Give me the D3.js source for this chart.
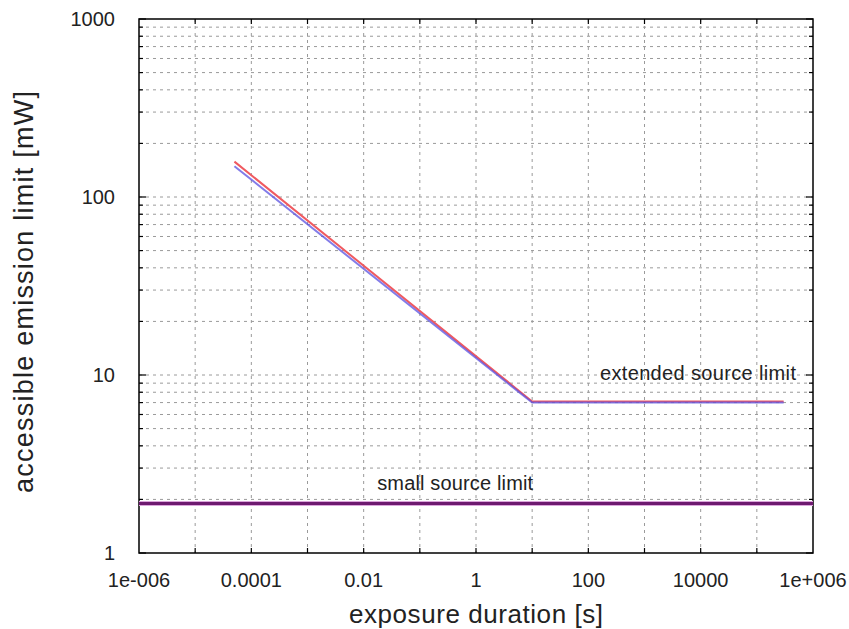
<!DOCTYPE html>
<html>
<head>
<meta charset="utf-8">
<script src="https://cdn.jsdelivr.net/npm/d3@7"></script>
<style>
  body { margin: 0; background: #fff; }
  text { font-family: "Liberation Sans", Arial, sans-serif; fill: #222; }
</style>
</head>
<body>
<svg id="chart" width="849" height="629"></svg>
<script>
// exposure duration [s] vs accessible emission limit [mW]
var xTickVals = [1e-6, 1e-4, 1e-2, 1, 1e2, 1e4, 1e6]
var xTickLabels = ["1e-006", "0.0001", "0.01", "1", "100", "10000", "1e+006"]
var yTickVals = [1, 10, 100, 1000]
var yTickLabels = ["1", "10", "100", "1000"]

var redLine = [[5e-5, 158], [10, 7.1], [3e5, 7.1]]
var blueLine = [[5e-5, 149], [10, 7.0], [3e5, 7.0]]
var smallSource = [[1e-6, 1.9], [1e6, 1.9]]

var labels = [
  {text: "extended source limit", t: 161, v: 9.4, len: 196},
  {text: "small source limit", t: 0.0174, v: 2.26, len: 156}
]

var pLeft = 139, pRight = 813, pTop = 19, pBottom = 553
var svg = d3.select("#chart")
var x = d3.scaleLog().domain([1e-6, 1e6]).range([pLeft, pRight])
var y = d3.scaleLog().domain([1, 1000]).range([pBottom, pTop])

// grid
var grid = svg.append("g")
var hVals = []
for (var n = 0; n < 3; n++) for (var k = 1; k <= 9; k++) {
  var v = k * Math.pow(10, n)
  if (v > 1 && v < 1000) hVals.push(v)
}
grid.selectAll(".hgrid").data(hVals).enter().append("line")
  .attr("x1", pLeft).attr("x2", pRight)
  .attr("y1", d => y(d)).attr("y2", d => y(d))
  .attr("stroke", "#9a9a9a").attr("stroke-dasharray", "3,4")
var vVals = d3.range(-5, 6).map(e => Math.pow(10, e))
grid.selectAll(".vgrid").data(vVals).enter().append("line")
  .attr("y1", pTop).attr("y2", pBottom)
  .attr("x1", d => x(d)).attr("x2", d => x(d))
  .attr("stroke", "#9a9a9a").attr("stroke-dasharray", "3,4")

// ticks on all four sides
var ticks = svg.append("g").attr("stroke", "#000").attr("stroke-width", 1.2)
var allY = hVals.concat([1, 1000])
allY.forEach(function(v){
  var major = yTickVals.indexOf(v) > -1
  var len = major ? 7 : 4
  ticks.append("line").attr("x1", pLeft).attr("x2", pLeft + len).attr("y1", y(v)).attr("y2", y(v))
  ticks.append("line").attr("x1", pRight).attr("x2", pRight - len).attr("y1", y(v)).attr("y2", y(v))
})
vVals.forEach(function(v){
  ticks.append("line").attr("y1", pBottom).attr("y2", pBottom - 5).attr("x1", x(v)).attr("x2", x(v))
  ticks.append("line").attr("y1", pTop).attr("y2", pTop + 5).attr("x1", x(v)).attr("x2", x(v))
})

// frame
svg.append("rect").attr("x", pLeft).attr("y", pTop)
  .attr("width", pRight - pLeft).attr("height", pBottom - pTop)
  .attr("fill", "none").attr("stroke", "#000").attr("stroke-width", 1.5)

// tick labels
svg.selectAll(".xlab").data(xTickVals).enter().append("text")
  .attr("x", d => x(d)).attr("y", 587)
  .attr("text-anchor", "middle").style("font-size", "20px")
  .text((d, i) => xTickLabels[i])
svg.selectAll(".ylab").data(yTickVals).enter().append("text")
  .attr("x", 115).attr("y", d => y(d)).attr("dy", "0.36em")
  .attr("text-anchor", "end").style("font-size", "20px")
  .text((d, i) => yTickLabels[i])

// axis titles
svg.append("text").attr("x", 476).attr("y", 623)
  .attr("text-anchor", "middle").style("font-size", "26px")
  .attr("textLength", 254).attr("lengthAdjust", "spacing")
  .text("exposure duration [s]")
svg.append("text").attr("transform", "translate(33,292) rotate(-90)")
  .attr("text-anchor", "middle").style("font-size", "27px")
  .attr("textLength", 402).attr("lengthAdjust", "spacing")
  .text("accessible emission limit [mW]")

// curves
var line = d3.line().x(d => x(d[0])).y(d => y(d[1]))
var plot = svg.append("g")
plot.append("path").datum(smallSource).attr("d", line)
  .attr("fill", "none").attr("stroke", "#dca6dc").attr("stroke-width", 5)
plot.append("path").datum(smallSource).attr("d", line)
  .attr("fill", "none").attr("stroke", "#6e1a70").attr("stroke-width", 3)
plot.append("path").datum(redLine).attr("d", line)
  .attr("fill", "none").attr("stroke", "#f05a60").attr("stroke-width", 2)
plot.append("path").datum(blueLine).attr("d", line)
  .attr("fill", "none").attr("stroke", "#5a50e0").attr("stroke-width", 2).attr("stroke-opacity", 0.75)

// annotations
plot.selectAll(".note").data(labels).enter().append("text")
  .attr("x", d => x(d.t)).attr("y", d => y(d.v))
  .style("font-size", "20px").attr("fill", "#333")
  .attr("textLength", d => d.len).attr("lengthAdjust", "spacing")
  .text(d => d.text)
</script>
</body>
</html>
